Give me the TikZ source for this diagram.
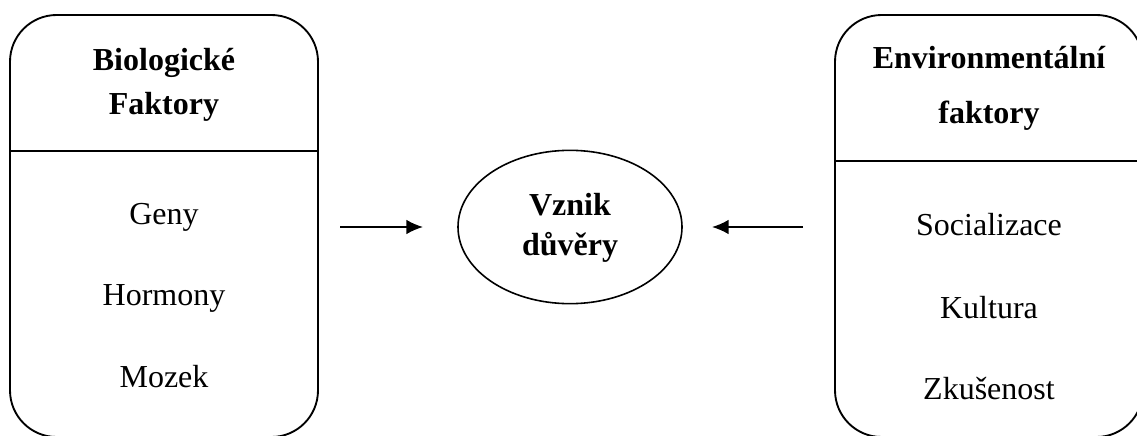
\documentclass[tikz,border=0pt]{standalone}
\usepackage{fontspec}
\setmainfont{Liberation Serif}
\usetikzlibrary{shapes.geometric,arrows.meta}
\tikzset{
  panel/.style={draw, line width=1.4pt, rounded corners=35pt, minimum width=231pt, minimum height=316.5pt, inner sep=0pt},
  divider/.style={line width=1.4pt},
  item/.style={anchor=base, inner sep=0pt, font=\fontsize{24}{28}\selectfont},
  title/.style={anchor=base, inner sep=0pt, font=\fontsize{24}{28}\selectfont\bfseries},
  hub/.style={draw, ellipse, line width=1.2pt, minimum width=168pt, minimum height=115pt, inner sep=0pt},
  arr/.style={line width=1.3pt, -{Latex[length=12.5pt,width=11pt]}}
}
\begin{document}
\begin{tikzpicture}[x=0.75pt,y=-0.75pt]
\clip (0,0) rectangle (1137,435);
\fill[white] (0,0) rectangle (1137,435);

% left panel: biological factors
\node[panel] (lbox) at (164,226) {};
\draw[divider] (lbox.west |- 0,151) coordinate (ldl) -- (lbox.east |- 0,151) coordinate (ldr);
\node[title] (lt1) at (164,70) {Biologické};
\node[title] (lt2) at (164,114) {Faktory};
\node[item] (l1) at (164,224) {Geny};
\node[item] (l2) at (164,305) {Hormony};
\node[item] (l3) at (164,387) {Mozek};

% right panel: environmental factors
\node[panel] (rbox) at (989,226) {};
\draw[divider] (rbox.west |- 0,161) coordinate (rdl) -- (rbox.east |- 0,161) coordinate (rdr);
\node[title] (rt1) at (989,69) {Environmentální};
\node[title] (rt2) at (989,123) {faktory};
\node[item] (r1) at (989,235) {Socializace};
\node[item] (r2) at (989,318) {Kultura};
\node[item] (r3) at (989,399) {Zkušenost};

% central ellipse
\node[hub] (ell) at (570,227) {};
\node[title] (c1) at (570,215) {Vznik};
\node[title] (c2) at (570,255) {důvěry};

% arrows pointing at the centre
\coordinate (la) at (340,227);
\coordinate (lb) at (423,227);
\coordinate (ra) at (803,227);
\coordinate (rb) at (712,227);
\draw[arr] (la) -- (lb);
\draw[arr] (ra) -- (rb);
\end{tikzpicture}
\end{document}
